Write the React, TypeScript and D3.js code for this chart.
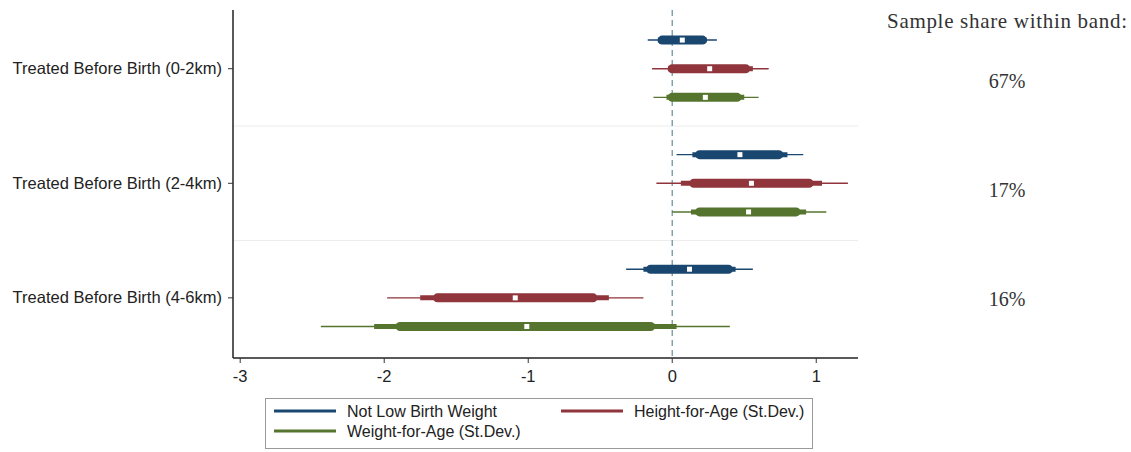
import { scaleLinear } from "d3";

// groups (y categories) and right-hand annotation
const groups = [
  "Treated Before Birth (0-2km)",
  "Treated Before Birth (2-4km)",
  "Treated Before Birth (4-6km)",
];
const shares = ["67%", "17%", "16%"];

// outcomes (series)
const series = [
  "Not Low Birth Weight",
  "Height-for-Age (St.Dev.)",
  "Weight-for-Age (St.Dev.)",
];
const colors = ["#1a476f", "#90353b", "#55752f"];

// point estimates, one per group
const pointNLBW = [0.07, 0.47, 0.12];
const pointHAZ = [0.26, 0.55, -1.09];
const pointWAZ = [0.23, 0.53, -1.01];

// confidence bands [lo, hi]: thin (widest), mid, thick (narrowest)
const thinNLBW = [[-0.17, 0.31], [0.03, 0.91], [-0.32, 0.56]];
const thinHAZ = [[-0.14, 0.67], [-0.11, 1.22], [-1.98, -0.2]];
const thinWAZ = [[-0.13, 0.6], [0.0, 1.07], [-2.44, 0.4]];

const midNLBW = [[-0.1, 0.24], [0.14, 0.8], [-0.2, 0.44]];
const midHAZ = [[-0.03, 0.56], [0.06, 1.04], [-1.75, -0.44]];
const midWAZ = [[-0.04, 0.5], [0.13, 0.93], [-2.07, 0.03]];

const thickNLBW = [[-0.07, 0.21], [0.19, 0.74], [-0.15, 0.39]];
const thickHAZ = [[0.0, 0.51], [0.15, 0.95], [-1.63, -0.55]];
const thickWAZ = [[0.0, 0.45], [0.19, 0.86], [-1.89, -0.15]];

const xTicks = [-3, -2, -1, 0, 1];

const points = [pointNLBW, pointHAZ, pointWAZ];
const thin = [thinNLBW, thinHAZ, thinWAZ];
const mid = [midNLBW, midHAZ, midWAZ];
const thick = [thickNLBW, thickHAZ, thickWAZ];

const W = 1131;
const H = 452;
const sans = "'Liberation Sans', Arial, sans-serif";
const serif = "'Liberation Serif', 'Times New Roman', serif";

export default function App() {
  const x = scaleLinear().domain([-3.05, 1.29]).range([233, 858]);
  // row index: group * 4 + series index, separators at 3 and 7
  const y = scaleLinear().domain([-1.05, 11.1]).range([10, 358]);
  const [y0, y1] = y.range();

  const rows = groups.flatMap((g, gi) =>
    series.map((s, si) => ({ gi, si, row: gi * 4 + si }))
  );

  return (
    <div style={{ position: "absolute", left: 0, top: 0 }}>
      <style>{`body{margin:0;background:#fff}`}</style>
      <svg width={W} height={H} style={{ display: "block" }}>
        <rect width={W} height={H} fill="#fff" />

        {/* group separators */}
        {[3, 7].map((r) => (
          <line key={r} x1={x.range()[0]} x2={x.range()[1]} y1={y(r)} y2={y(r)} stroke="#ececec" strokeWidth={1} />
        ))}

        {/* zero line */}
        <line x1={x(0)} x2={x(0)} y1={y0} y2={y1} stroke="#6f96a6" strokeWidth={1.3} strokeDasharray="6,4" />

        {/* estimates */}
        {rows.map(({ gi, si, row }) => {
          const cy = y(row);
          const c = colors[si];
          return (
            <g key={`${gi}-${si}`}>
              <line x1={x(thin[si][gi][0])} x2={x(thin[si][gi][1])} y1={cy} y2={cy} stroke={c} strokeWidth={1.4} />
              <line x1={x(mid[si][gi][0])} x2={x(mid[si][gi][1])} y1={cy} y2={cy} stroke={c} strokeWidth={5} />
              <line x1={x(thick[si][gi][0])} x2={x(thick[si][gi][1])} y1={cy} y2={cy} stroke={c} strokeWidth={9} strokeLinecap="round" />
              <rect x={x(points[si][gi]) - 2.5} y={cy - 2.5} width={5} height={5} fill="#fff" />
            </g>
          );
        })}

        {/* y axis */}
        <line x1={233} x2={233} y1={y0} y2={y1} stroke="#222" strokeWidth={1.5} />
        {groups.map((g, gi) => (
          <g key={g}>
            <line x1={228} x2={233} y1={y(gi * 4 + 1)} y2={y(gi * 4 + 1)} stroke="#333" />
            <text x={222} y={y(gi * 4 + 1) + 5.5} textAnchor="end" fontFamily={sans} fontSize={16.5} fill="#222">
              {g}
            </text>
          </g>
        ))}

        {/* x axis */}
        <line x1={233} x2={858} y1={y1} y2={y1} stroke="#222" strokeWidth={1.5} />
        {xTicks.map((t) => (
          <g key={t}>
            <line x1={x(t)} x2={x(t)} y1={y1} y2={y1 + 5} stroke="#333" />
            <text x={x(t)} y={382} textAnchor="middle" fontFamily={sans} fontSize={16.5} fill="#222">
              {t}
            </text>
          </g>
        ))}

        {/* right annotation */}
        <text x={887} y={28} fontFamily={serif} fontSize={21} fill="#333" textLength={240} lengthAdjust="spacing">
          Sample share within band:
        </text>
        {shares.map((s, i) => (
          <text key={s} x={1007} y={[88, 197, 306][i]} textAnchor="middle" fontFamily={serif} fontSize={20} fill="#333">
            {s}
          </text>
        ))}

        {/* legend */}
        <rect x={265.5} y={398.5} width={547} height={50} fill="#fff" stroke="#999" />
        {series.map((s, i) => {
          const lx = i === 1 ? 561 : 274;
          const ly = i === 2 ? 431 : 411;
          return (
            <g key={s}>
              <line x1={lx} x2={lx + 62} y1={ly} y2={ly} stroke={colors[i]} strokeWidth={3} />
              <text x={lx + 73} y={ly + 6} fontFamily={sans} fontSize={16} fill="#222">
                {s}
              </text>
            </g>
          );
        })}
      </svg>
    </div>
  );
}
